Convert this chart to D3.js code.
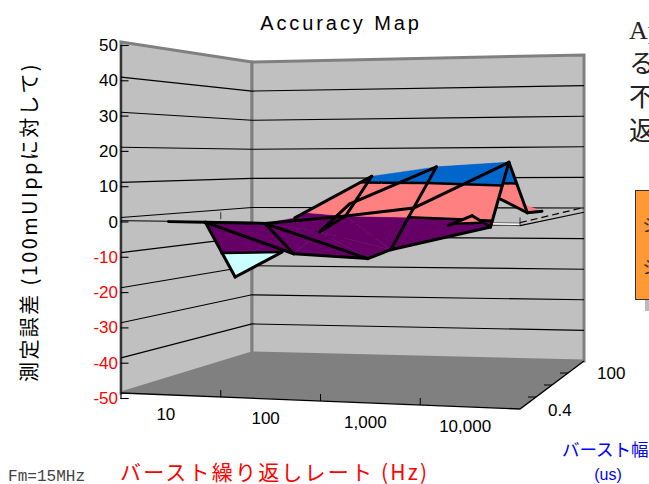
<!DOCTYPE html>
<html>
<head>
<meta charset="utf-8">
<script src="https://cdn.jsdelivr.net/npm/d3@7"></script>
<style>
  html, body { margin: 0; padding: 0; background: #fff; overflow: hidden; }
  text { font-family: "Liberation Sans", sans-serif; }
  .jp { font-family: "Noto Sans CJK JP", sans-serif; }
</style>
</head>
<body>
<div id="chart"></div>
<script>
var rates = ["10", "100", "1,000", "10,000"];
var widths = ["0.4", "2", "20", "100"];
var widthLabels = ["0.4", "100"];
var valueTicks = [-50, -40, -30, -20, -10, 0, 10, 20, 30, 40, 50];
var bandEdges = [-20, -10, 0, 10, 20];
var bandColors = ["#CCFFFF", "#660066", "#FF8080", "#0066CC"];

// one row per burst width, front to back
var row04 = [-0.4, -9.0, -9.95, 2.6];
var row2 = [-17.8, -3.8, -8.8, -1.7];
var row20 = [-2.6, 0, 2.6, 16.8];
var row100 = [-1.8, 12, 15, 0.2];
var rows = [row04, row2, row20, row100];

// small pieces of the surface that fall between the grid points: [u, v, value]
var tailPoint = [0.9, 0.875, 0.7];
var stubPoint = [0.08, 0.125, -0.4];
var ridgePoint = [0.4, 0.66, 3.6];

// which grid points are joined by a visible line: [row, col, row, col, from, to]
var meshEdges = [
  [0,0, 1,0, 0,1], [1,0, 1,1, 0,0.55], [0,0, 0,1, 0,1], [0,0, 2,0, 0,1],
  [2,0, 0,1, 0,1], [2,0, 0,2, 0,1], [0,1, 0,2, 0,1],
  [0,2, 1,2, 0,1], [1,2, 2,2, 0,1], [2,2, 3,2, 0,1],
  [1,2, 1,3, 0,1], [0,2, 0,3, 0.77,1], [0,3, 1,3, 0,1],
  [1,3, 2,3, 0,1], [2,3, 3,3, 0,1], [3,2, 3,3, 0.71,1],
  [2,0, 2,1, 0,1], [2,1, 2,2, 0,1], [2,2, 2,3, 0,1],
  [3,0, 3,1, 0,1], [1,1, 2,1, 0,1], [2,1, 3,1, 0,1]
];

var svg = d3.select("#chart").append("svg")
    .attr("width", 649)
    .attr("height", 484);

// box corners on screen
var box = {
  fl: {x: 121, bottom: 393, top: 42},
  fr: {x: 520, bottom: 409, top: 40},
  bl: {x: 252, bottom: 353, top: 62},
  br: {x: 584, bottom: 361, top: 55}
};
var surfaceDrop = 3.5;

var uScale = d3.scaleOrdinal(rates, [0.174, 0.40, 0.59, 0.857]);
var vScale = d3.scaleOrdinal(widths, [0.125, 0.375, 0.625, 0.875]);
var yScale = d3.scaleLinear().domain([-50, 50]).range([0, 1]);

function mix(a, b, t) { return a + (b - a) * t; }

// u along the rate axis, v into the page, val on the value axis
function project(u, v, val) {
  var t = yScale(val);
  function at(key) {
    return mix(mix(box.fl[key], box.fr[key], u), mix(box.bl[key], box.br[key], u), v);
  }
  return [at("x"), mix(at("bottom"), at("top"), t)];
}

function surf(p) {
  var s = project(p[0], p[1], p[2]);
  return [s[0], s[1] + surfaceDrop];
}

function lerp3(p, q, t) {
  return [mix(p[0], q[0], t), mix(p[1], q[1], t), mix(p[2], q[2], t)];
}

var line = d3.line();

function poly(pts) { return line(pts) + "Z"; }

// walls and floor
svg.append("path")
    .attr("d", poly([project(0,0,-50), project(0,1,-50), project(1,1,-50), project(1,0,-50)]))
    .attr("fill", "#808080");

svg.append("path")
    .attr("d", poly([project(0,0,-50), project(0,1,-50), project(0,1,50), project(0,0,50)]))
    .attr("fill", "#C0C0C0")
    .attr("stroke", "#808080")
    .attr("stroke-width", 3);

svg.append("path")
    .attr("d", poly([project(0,1,-50), project(1,1,-50), project(1,1,50), project(0,1,50)]))
    .attr("fill", "#C0C0C0")
    .attr("stroke", "#808080")
    .attr("stroke-width", 3);

// grid lines on the walls
svg.append("g").selectAll("path")
    .data(valueTicks.filter(function(d) { return d > -50 && d < 50; }))
    .enter().append("path")
    .attr("d", function(d) { return line([project(0,0,d), project(0,1,d), project(1,1,d)]); })
    .attr("fill", "none")
    .attr("stroke", "#000")
    .attr("stroke-width", 1.1);

// zero plane, thin outline with the dashed end
var xTicks = d3.scaleLinear().domain([0, rates.length]).range([0, 1]);

svg.append("path")
    .attr("d", line([project(0,0,-0.9), project(1,0,-0.3)]))
    .attr("fill", "none")
    .attr("stroke", "#000");
svg.append("path")
    .attr("d", poly([project(0.78,0,0.4), project(1,0,0.4), project(1,0,-0.3), project(0.78,0,-0.3)]))
    .attr("fill", "#fff")
    .attr("stroke", "#333")
    .attr("stroke-width", 0.7);
svg.append("path")
    .attr("d", line([project(1,0,-0.3), project(1,1,-1.4)]))
    .attr("stroke", "#000")
    .attr("stroke-width", 1.2);
svg.append("path")
    .attr("d", line([project(1,0,0.5), project(1,1,0.2)]))
    .attr("stroke", "#000")
    .attr("stroke-dasharray", "7,4")
    .attr("stroke-width", 1.2);
svg.append("g").selectAll("path")
    .data([1, 4])
    .enter().append("path")
    .attr("d", function(d) {
      var p = project(xTicks(d), 0, 0);
      return line([p, [p[0], p[1] - 7]]);
    })
    .attr("stroke", "#333");

// surface: cut every triangle along the value bands
function clipAbove(pts, level, sign) {
  var out = [];
  pts.forEach(function(p, i) {
    var q = pts[(i + 1) % pts.length];
    var dp = (p[2] - level) * sign, dq = (q[2] - level) * sign;
    if (dp >= 0) out.push(p);
    if (dp * dq < 0) out.push(lerp3(p, q, dp / (dp - dq)));
  });
  return out;
}

function point(j, i) {
  return [uScale(rates[i]), vScale(widths[j]), rows[j][i]];
}

var surface = svg.append("g");

function drawEdge(pts, w) {
  surface.append("path")
      .attr("d", line(pts.map(surf)))
      .attr("fill", "none")
      .attr("stroke", "#000")
      .attr("stroke-width", w)
      .attr("stroke-linecap", "round");
}

function drawTriangle(tri) {
  bandColors.forEach(function(color, k) {
    var piece = clipAbove(clipAbove(tri, bandEdges[k], 1), bandEdges[k + 1], -1);
    if (piece.length < 3) return;
    surface.append("path")
        .attr("d", poly(piece.map(surf)))
        .attr("fill", color)
        .attr("stroke", color)
        .attr("stroke-width", 0.4);
  });
  // black line where the surface crosses from one band into the next
  bandEdges.slice(1, -1).forEach(function(level) {
    var cross = [];
    tri.forEach(function(p, i) {
      var q = tri[(i + 1) % 3];
      var dp = p[2] - level, dq = q[2] - level;
      if (dp * dq < 0) cross.push(lerp3(p, q, dp / (dp - dq)));
    });
    if (cross.length == 2) drawEdge(cross, 2.5);
  });
}

drawTriangle([lerp3(point(2, 3), point(3, 3), 0.83), tailPoint, point(3, 3)]);

d3.range(rows.length - 2, -1, -1).forEach(function(j) {
  d3.range(0, rates.length - 1).forEach(function(i) {
    // the front left cell folds along its other diagonal
    if (j == 0 && i == 0) {
      drawTriangle([point(0, 0), point(2, 0), point(1, 0)]);
      drawTriangle([point(0, 0), point(1, 1), point(0, 1)]);
      drawTriangle([point(0, 0), point(1, 0), point(1, 1)]);
      return;
    }
    drawTriangle([point(j + 1, i), point(j + 1, i + 1), point(j, i + 1)]);
    drawTriangle([point(j, i), point(j + 1, i), point(j, i + 1)]);
  });
});

meshEdges.forEach(function(e) {
  var p = point(e[0], e[1]), q = point(e[2], e[3]);
  drawEdge([lerp3(p, q, e[4]), lerp3(p, q, e[5])], 3);
});
drawEdge([point(3, 2), ridgePoint, point(1, 1)], 3);
drawEdge([point(3, 3), tailPoint], 3);
drawEdge([stubPoint, point(0, 0)], 3);

// value axis
var axisY = d3.scaleLinear().domain([-50, 50]).range([398, 45]);
var yAxis = svg.append("g")
    .attr("transform", "translate(120.5,0)")
    .call(d3.axisRight(axisY).tickValues(valueTicks).tickSize(8).tickFormat(""));
yAxis.selectAll("line").attr("stroke-width", 1.1);
yAxis.select(".domain").attr("stroke-width", 1.2);

svg.append("g").selectAll("text")
    .data(valueTicks)
    .enter().append("text")
    .attr("x", 118)
    .attr("y", function(d) { return axisY(d) + 6; })
    .attr("text-anchor", "end")
    .attr("font-size", 17)
    .attr("fill", function(d) { return d < 0 ? "#FF0000" : "#000"; })
    .text(function(d) { return d; });

// floor edges and ticks
svg.append("path")
    .attr("d", line([project(0,0,-50), project(1,0,-50), project(1,1,-50)]))
    .attr("fill", "none")
    .attr("stroke", "#000")
    .attr("stroke-width", 1.4);

svg.append("g").selectAll("path")
    .data(d3.range(1, rates.length))
    .enter().append("path")
    .attr("d", function(d) {
      var p = project(xTicks(d), 0, -50);
      return line([p, [p[0], p[1] - 7]]);
    })
    .attr("stroke", "#000");

svg.append("g").selectAll("path")
    .data(d3.range(1, widths.length))
    .enter().append("path")
    .attr("d", function(d) {
      var p = project(1, xTicks(d), -50);
      return line([p, [p[0] - 8, p[1]]]);
    })
    .attr("stroke", "#000");

svg.append("g").selectAll("text")
    .data(rates)
    .enter().append("text")
    .attr("x", function(d, i) { return project(xTicks(i + 0.5), 0, -50)[0] - 5; })
    .attr("y", function(d, i) { return project(xTicks(i + 0.5), 0, -50)[1] + 25; })
    .attr("text-anchor", "middle")
    .attr("font-size", 17)
    .text(function(d) { return d; });

svg.append("g").selectAll("text")
    .data(widthLabels)
    .enter().append("text")
    .attr("x", function(d, i) { return i == 0 ? 548 : 597; })
    .attr("y", function(d, i) { return i == 0 ? 416 : 379; })
    .attr("font-size", 17)
    .text(function(d) { return d; });

// titles
svg.append("text")
    .attr("x", 341).attr("y", 30)
    .attr("text-anchor", "middle")
    .attr("font-size", 20)
    .attr("letter-spacing", 2.9)
    .text("Accuracy Map");

svg.append("text")
    .attr("class", "jp")
    .attr("transform", "translate(37,222) rotate(-90)")
    .attr("text-anchor", "middle")
    .attr("font-size", 20)
    .attr("letter-spacing", 2.4)
    .text("測定誤差 (100mUIppに対して)");

svg.append("text")
    .attr("class", "jp")
    .attr("x", 120).attr("y", 480)
    .attr("font-size", 21)
    .attr("fill", "#FF0000")
    .attr("letter-spacing", 2.2)
    .text("バースト繰り返しレート (Hz)");

svg.append("text")
    .attr("class", "jp")
    .attr("x", 562).attr("y", 456)
    .attr("font-size", 17.5)
    .attr("fill", "#0000FF")
    .text("バースト幅");

svg.append("text")
    .attr("x", 608).attr("y", 480)
    .attr("text-anchor", "middle")
    .attr("font-size", 16)
    .attr("fill", "#0000FF")
    .text("(us)");

svg.append("text")
    .attr("x", 8).attr("y", 481)
    .attr("font-size", 16)
    .attr("fill", "#444")
    .attr("textLength", 77)
    .attr("lengthAdjust", "spacingAndGlyphs")
    .style("font-family", "'Liberation Mono', monospace")
    .text("Fm=15MHz");

// cut-off page text at the right
var sideText = ["Ap", "る", "不", "返"];
svg.append("g").selectAll("text")
    .data(sideText)
    .enter().append("text")
    .attr("x", 629)
    .attr("y", function(d, i) { return 39 + i * 33.5; })
    .attr("font-size", 26)
    .attr("fill", "#222")
    .style("font-family", "'Liberation Serif', 'Noto Sans CJK JP', serif")
    .text(function(d) { return d; });

svg.append("rect")
    .attr("x", 645).attr("y", 300).attr("width", 4).attr("height", 11)
    .attr("fill", "#BBB");
svg.append("rect")
    .attr("x", 635.5).attr("y", 190.5).attr("width", 20).attr("height", 109)
    .attr("fill", "#FF9933")
    .attr("stroke", "#333");
svg.append("g").selectAll("text")
    .data(["シ", "シ"])
    .enter().append("text")
    .attr("class", "jp")
    .attr("x", 642)
    .attr("y", function(d, i) { return 232 + i * 42; })
    .attr("font-size", 18)
    .attr("fill", "#333")
    .text(function(d) { return d; });
</script>
</body>
</html>
